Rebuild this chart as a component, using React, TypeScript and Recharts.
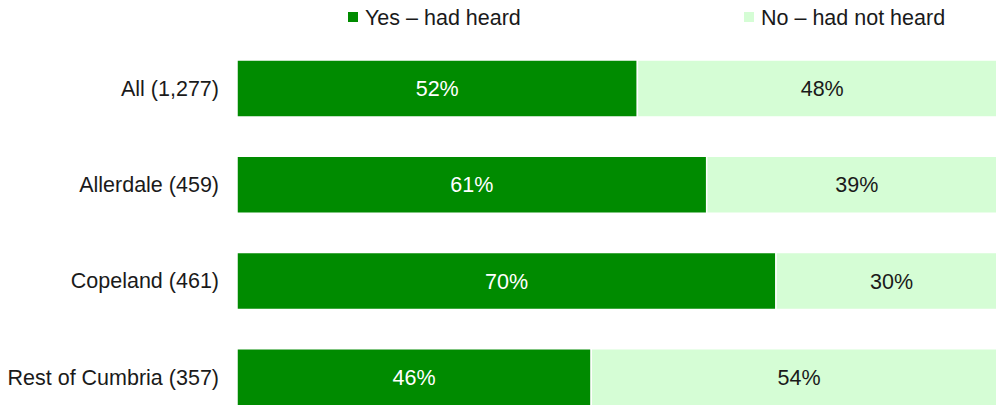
import React from "react";
import { BarChart, Bar, XAxis, YAxis, LabelList } from "recharts";

const categories = ["All (1,277)", "Allerdale (459)", "Copeland (461)", "Rest of Cumbria (357)"];
const yesValues = [52, 61, 70, 46];
const noValues = [48, 39, 30, 54];
const seriesNames = ["Yes – had heard", "No – had not heard"];
const seriesColors = ["#008b00", "#d5fdd5"];

const data = categories.map((c, i) => ({ name: c, yes: yesValues[i], no: noValues[i] }));

const FONT = "'Liberation Sans', Arial, Helvetica, sans-serif";
const FS = 21.5;

const CatTick = (props: any) => {
  const { x, y, payload } = props;
  return (
    <text x={x - 16} y={y} dy="0.355em" textAnchor="end" fontSize={FS} fontFamily={FONT} fill="#1a1a1a">
      {payload.value}
    </text>
  );
};

const legendPos = [348, 744];

export default function App() {
  return (
    <div style={{ position: "absolute", left: 0, top: 0, width: 996, height: 405, overflow: "hidden", background: "#fff", fontFamily: FONT }}>
      {seriesNames.map((n, i) => (
        <React.Fragment key={n}>
          <div style={{ position: "absolute", left: legendPos[i], top: 12, width: 10, height: 10, background: seriesColors[i] }} />
          <div style={{ position: "absolute", left: legendPos[i] + 17, top: 6, fontSize: FS, lineHeight: "24px", color: "#1a1a1a", whiteSpace: "nowrap" }}>{n}</div>
        </React.Fragment>
      ))}
      <div style={{ position: "absolute", left: 0, top: 0 }}>
        <BarChart width={1008} height={430} data={data} layout="vertical" margin={{ top: 40, right: 1, left: 0, bottom: 5 }} barSize={57}>
          <XAxis type="number" domain={[0, 100]} hide />
          <YAxis type="category" dataKey="name" width={237} axisLine={false} tickLine={false} tickSize={0} tick={<CatTick />} interval={0} />
          <Bar dataKey="yes" stackId="a" fill={seriesColors[0]} stroke="#fff" strokeWidth={1.5} isAnimationActive={false}>
            <LabelList dataKey="yes" position="center" formatter={(v: any) => `${v}%`} fill="#fff" fontSize={FS} fontFamily={FONT} />
          </Bar>
          <Bar dataKey="no" stackId="a" fill={seriesColors[1]} stroke="#fff" strokeWidth={1.5} isAnimationActive={false}>
            <LabelList dataKey="no" position="center" formatter={(v: any) => `${v}%`} fill="#1a1a1a" fontSize={FS} fontFamily={FONT} />
          </Bar>
        </BarChart>
      </div>
    </div>
  );
}
